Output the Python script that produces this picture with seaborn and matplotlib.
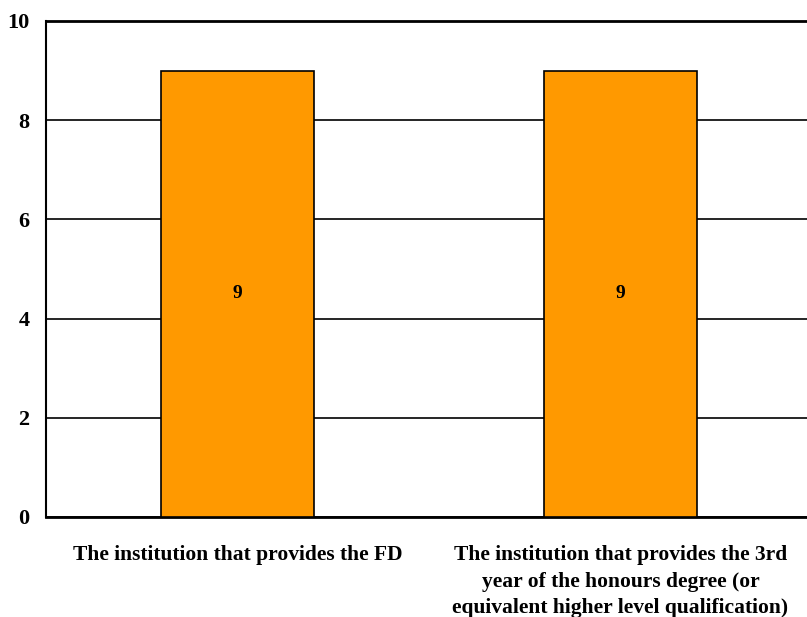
import matplotlib
matplotlib.use("Agg")
import matplotlib.pyplot as plt
import seaborn as sns
import pandas as pd

categories = [
    "The institution that provides the FD",
    "The institution that provides the 3rd\nyear of the honours degree (or\nequivalent higher level qualification)",
]
values = [9, 9]
y_ticks = [0, 2, 4, 6, 8, 10]

sns.set_style("white")
plt.rcParams['font.family'] = ['Liberation Serif', 'DejaVu Serif']
plt.rcParams['font.weight'] = 'bold'
plt.rcParams['text.color'] = 'black'
plt.rcParams['xtick.color'] = 'black'
plt.rcParams['ytick.color'] = 'black'

df = pd.DataFrame({'cat': categories, 'val': values})

fig = plt.figure(figsize=(8.07, 6.17), dpi=100)
ax = fig.add_axes([46 / 807, 100 / 617, 766 / 807, 496 / 617])

sns.barplot(data=df, x='cat', y='val', color='#FF9900', edgecolor='black',
            linewidth=1.2, width=0.4, saturation=1, ax=ax, zorder=3)

ax.set_xlim(-0.5, 1.5)
ax.set_ylim(0, 10)
ax.set_yticks(y_ticks)
ax.set_yticklabels([str(t) for t in y_ticks], fontsize=16, fontweight='bold', color='black')
ax.yaxis.grid(True, color='black', linewidth=1.2, zorder=0)
ax.set_axisbelow(True)

# category labels without ticks, ticks at category boundaries
ax.set_xticks(range(len(categories)))
ax.set_xticklabels(categories, fontsize=15.5, fontweight='bold', linespacing=1.45, color='black')
ax.tick_params(axis='x', which='major', length=0, pad=20)
ax.set_xticks([-0.5, 0.5, 1.5], minor=True)
ax.tick_params(axis='x', which='minor', length=5, width=1.2, color='black', direction='out')
ax.tick_params(axis='y', length=0, pad=12)

for i, v in enumerate(values):
    ax.text(i, v / 2, str(v), ha='center', va='center', fontsize=14,
            fontweight='bold', color='black', zorder=4)

for s in ['left', 'bottom', 'top']:
    ax.spines[s].set_color('black')
ax.spines['left'].set_linewidth(1.5)
ax.spines['bottom'].set_linewidth(2)
ax.spines['top'].set_linewidth(2)
ax.spines['right'].set_visible(False)
ax.set_xlabel('')
ax.set_ylabel('')

fig.savefig('out.png', dpi=100)
